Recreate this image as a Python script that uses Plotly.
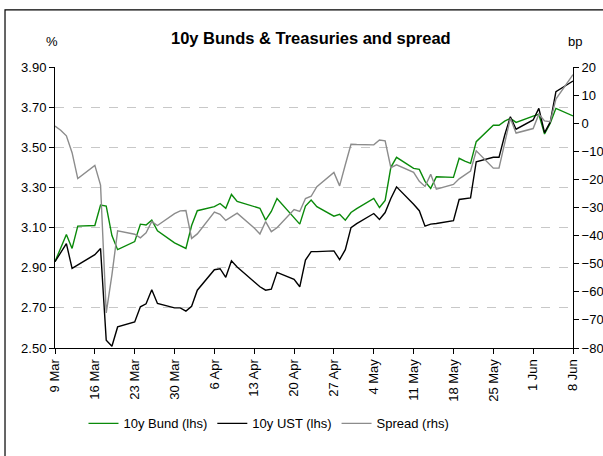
import plotly.graph_objects as go

dates = [
    "2020-03-09", "2020-03-10", "2020-03-11", "2020-03-12", "2020-03-13",
    "2020-03-16", "2020-03-17", "2020-03-18", "2020-03-19", "2020-03-20",
    "2020-03-23", "2020-03-24", "2020-03-25", "2020-03-26", "2020-03-27",
    "2020-03-30", "2020-03-31", "2020-04-01", "2020-04-02", "2020-04-03",
    "2020-04-06", "2020-04-07", "2020-04-08", "2020-04-09", "2020-04-10",
    "2020-04-13", "2020-04-14", "2020-04-15", "2020-04-16", "2020-04-17",
    "2020-04-20", "2020-04-21", "2020-04-22", "2020-04-23", "2020-04-24",
    "2020-04-27", "2020-04-28", "2020-04-29", "2020-04-30", "2020-05-01",
    "2020-05-04", "2020-05-05", "2020-05-06", "2020-05-07", "2020-05-08",
    "2020-05-11", "2020-05-12", "2020-05-13", "2020-05-14", "2020-05-15",
    "2020-05-18", "2020-05-19", "2020-05-20", "2020-05-21", "2020-05-22",
    "2020-05-25", "2020-05-26", "2020-05-27", "2020-05-28", "2020-05-29",
    "2020-06-01", "2020-06-02", "2020-06-03", "2020-06-04", "2020-06-05",
    "2020-06-08",
]

bund = [
    2.930, 3.000, 3.066, 2.996, 3.107,
    3.110, 3.212, 3.207, 3.060, 2.990,
    3.030, 3.117, 3.113, 3.137, 3.084,
    3.024, 3.010, 2.996, 3.110, 3.184,
    3.204, 3.220, 3.196, 3.265, 3.230,
    3.205, 3.196, 3.137, 3.180, 3.245,
    3.147, 3.117, 3.207, 3.237, 3.204,
    3.157, 3.166, 3.137, 3.175, 3.194,
    3.245, 3.200, 3.235, 3.400, 3.450,
    3.395, 3.390, 3.330, 3.295, 3.353,
    3.350, 3.445, 3.431, 3.420, 3.528,
    3.610, 3.610, 3.630, 3.644, 3.624,
    3.655, 3.664, 3.566, 3.620, 3.694,
    3.656,
]

ust = [
    2.930, 2.976, 3.020, 2.897, 2.913,
    2.965, 2.996, 2.539, 2.509, 2.605,
    2.630, 2.705, 2.720, 2.790, 2.722,
    2.700, 2.700, 2.684, 2.708, 2.788,
    2.890, 2.895, 2.852, 2.934, 2.904,
    2.833, 2.805, 2.788, 2.793, 2.877,
    2.842, 2.805, 2.938, 2.980, 2.980,
    2.984, 2.940, 2.990, 3.100, 3.120,
    3.170, 3.140, 3.175, 3.245, 3.303,
    3.216, 3.184, 3.107, 3.117, 3.120,
    3.134, 3.240, 3.243, 3.248, 3.428,
    3.450, 3.450, 3.560, 3.652, 3.590,
    3.636, 3.694, 3.573, 3.625, 3.777,
    3.830,
]

spread = [
    -1.0, -2.5, -4.5, -10.5, -19.7,
    -15.0, -22.0, -67.5, -54.0, -38.3,
    -39.5, -40.8, -39.0, -35.0, -36.4,
    -32.2, -31.2, -31.1, -41.0, -39.4,
    -31.6, -32.4, -34.6, -33.2, -32.0,
    -37.3, -39.4, -35.0, -38.6, -37.2,
    -30.7, -31.4, -26.8, -26.0, -22.6,
    -17.5, -22.3, -14.8, -7.5, -7.6,
    -7.7, -6.0, -6.3, -15.8, -14.8,
    -17.5, -20.7, -22.5, -18.2, -23.5,
    -21.8, -19.8, -18.5, -17.0, -9.8,
    -16.0, -16.0, -6.5, 1.8, -3.5,
    -1.9, 3.2, 0.8, 0.5, 8.6,
    17.3,
]

tick_dates = ["2020-03-09", "2020-03-16", "2020-03-23", "2020-03-30", "2020-04-06",
              "2020-04-13", "2020-04-20", "2020-04-27", "2020-05-04", "2020-05-11",
              "2020-05-18", "2020-05-25", "2020-06-01", "2020-06-08"]
tick_labels = ["9 Mar", "16 Mar", "23 Mar", "30 Mar", "6 Apr", "13 Apr", "20 Apr",
               "27 Apr", "4 May", "11 May", "18 May", "25 May", "1 Jun", "8 Jun"]

left_ticks = [2.5, 2.7, 2.9, 3.1, 3.3, 3.5, 3.7, 3.9]
right_ticks = [-80, -70, -60, -50, -40, -30, -20, -10, 0, 10, 20]

FONT = "Liberation Sans, Arial, sans-serif"

fig = go.Figure()
fig.add_trace(go.Scatter(x=dates, y=bund, name="10y Bund (lhs)", mode="lines",
                         line=dict(color="#0a8a0a", width=1.4)))
fig.add_trace(go.Scatter(x=dates, y=ust, name="10y UST (lhs)", mode="lines",
                         line=dict(color="#000000", width=1.4)))
fig.add_trace(go.Scatter(x=dates, y=spread, name="Spread (rhs)", mode="lines",
                         line=dict(color="#8c8c8c", width=1.4), yaxis="y2"))

fig.update_layout(
    width=603, height=456,
    margin=dict(l=55, r=30, t=67, b=108, pad=0),
    paper_bgcolor="white", plot_bgcolor="white",
    font=dict(family=FONT, size=13, color="#000000"),
    showlegend=True,
    legend=dict(orientation="h", x=0.055, xanchor="left", y=-0.215, yanchor="top",
                font=dict(size=13), itemwidth=30, tracegroupgap=0,
                bgcolor="rgba(0,0,0,0)"),
    xaxis=dict(type="date", range=["2020-03-09", "2020-06-08"], automargin=False,
               tickmode="array", tickvals=tick_dates, ticktext=tick_labels,
               tickangle=-90, ticks="outside", ticklen=5, tickcolor="#000",
               showline=True, linecolor="#000", linewidth=1, showgrid=False,
               zeroline=False, tickfont=dict(size=13)),
    yaxis=dict(range=[2.5, 3.9], tickmode="array", tickvals=left_ticks, automargin=False,
               tickformat=".2f", ticks="outside", ticklen=5, tickcolor="#000",
               showline=True, linecolor="#000", linewidth=1,
               showgrid=True, gridcolor="#c8c8c8", griddash="dash", gridwidth=1,
               zeroline=False, tickfont=dict(size=13)),
    yaxis2=dict(range=[-80, 20], tickmode="array", tickvals=right_ticks, automargin=False,
                overlaying="y", side="right", ticks="outside", ticklen=5,
                tickcolor="#000", showline=True, linecolor="#000", linewidth=1,
                showgrid=False, zeroline=False, tickfont=dict(size=13)),
    annotations=[
        dict(text="<b>10y Bunds & Treasuries and spread</b>", xref="paper", yref="paper",
             x=0.494, y=1.103, xanchor="center", yanchor="middle", showarrow=False,
             font=dict(size=16.5)),
        dict(text="%", xref="paper", yref="paper", x=-0.006, y=1.09,
             xanchor="center", yanchor="middle", showarrow=False, font=dict(size=13)),
        dict(text="bp", xref="paper", yref="paper", x=1.004, y=1.09,
             xanchor="center", yanchor="middle", showarrow=False, font=dict(size=13)),
    ],
    shapes=[
        dict(type="rect", xref="paper", yref="paper", x0=-0.0965, x1=1.1,
             y0=-0.45, y1=1.203, line=dict(color="#000000", width=1.2),
             fillcolor="rgba(0,0,0,0)", layer="below"),
    ],
)

fig.write_html("out.html", config={"displayModeBar": False},
               post_script="document.body.style.margin='0';")
